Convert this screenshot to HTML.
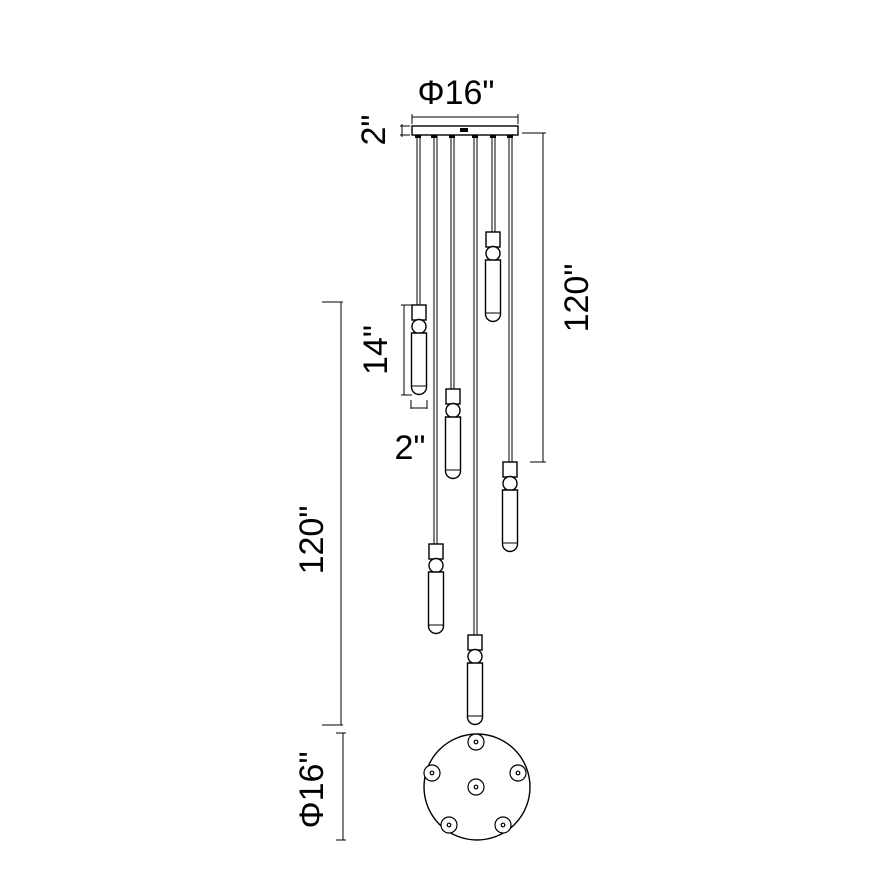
<!DOCTYPE html>
<html><head><style>body{margin:0;background:#fff}svg{display:block}</style></head><body>
<svg width="886" height="886" viewBox="0 0 886 886" xmlns="http://www.w3.org/2000/svg" font-family="Liberation Sans, Arial, sans-serif">
<defs>
<g id="p" fill="#fff" stroke="#000" stroke-width="1.4">
<rect x="-7" y="0" width="14" height="15"/>
<circle cx="0" cy="21.5" r="7"/>
<path d="M-7.5 28 H7.5 V82 A7.5 7.5 0 0 1 -7.5 82 Z"/>
<path d="M-7.5 81 H7.5" stroke-width="1"/>
</g>
</defs>
<g stroke="#000" fill="none">
<!-- wires -->
<g stroke-width="1" >
<path d="M417 136V305M420 136V305"/>
<path d="M434 136V544M437 136V544"/>
<path d="M451 136V389M454 136V389"/>
<path d="M474 136V635M477 136V635"/>
<path d="M492 136V232M495 136V232"/>
<path d="M509 136V462M512 136V462"/>
</g>
<!-- canopy -->
<rect x="412" y="126" width="106" height="9" fill="#fff" stroke-width="1.4"/>
<g fill="#000" stroke="none">
<rect x="415" y="135" width="6" height="3"/><rect x="431" y="135" width="6" height="3"/><rect x="449" y="135" width="6" height="3"/><rect x="472" y="135" width="6" height="3"/><rect x="490" y="135" width="6" height="3"/><rect x="507" y="135" width="6" height="3"/>
<rect x="460" y="128" width="8" height="4"/>
</g>
<path d="M412 117H518M412 114V124M518 114V124" stroke-width="1"/>
<path d="M400 126H410M400 135H410M402 124V137" stroke-width="1"/>
<!-- right dim -->
<path d="M522 133H546M543 133V462M530 462H546" stroke-width="1"/>
<!-- left dim -->
<path d="M322 302H343M341 302V725M322 725H343" stroke-width="1"/>
<!-- 14 dim -->
<path d="M401 305H412M404 305V395M401 395H412" stroke-width="1"/>
<path d="M411 400V409M427 400V409M411 408H427" stroke-width="1"/>
<!-- bottom dim -->
<path d="M336 733H346M343 733V840M336 840H346" stroke-width="1"/>
</g>
<use href="#p" x="419" y="305"/>
<use href="#p" x="453" y="389"/>
<use href="#p" x="493" y="232"/>
<use href="#p" x="510" y="462"/>
<use href="#p" x="436" y="544"/>
<use href="#p" x="475" y="635"/>
<!-- base -->
<g stroke="#000" fill="#fff" stroke-width="1.4">
<circle cx="477" cy="787" r="53"/>
<g stroke-width="1.2">
<circle cx="476" cy="742" r="8"/><circle cx="432" cy="773" r="8"/><circle cx="518" cy="773" r="8"/>
<circle cx="476" cy="787" r="8"/><circle cx="449" cy="825" r="8"/><circle cx="503" cy="825" r="8"/>
<circle cx="476" cy="742" r="1.8"/><circle cx="432" cy="773" r="1.8"/><circle cx="518" cy="773" r="1.8"/>
<circle cx="476" cy="787" r="1.8"/><circle cx="449" cy="825" r="1.8"/><circle cx="503" cy="825" r="1.8"/>
</g>
</g>
<g font-size="34" fill="#000">
<text x="456" y="104" text-anchor="middle">Φ16"</text>
<text x="410" y="459" text-anchor="middle">2"</text>
<text transform="translate(385,130) rotate(-90)" text-anchor="middle">2"</text>
<text transform="translate(387,350) rotate(-90)" text-anchor="middle">14"</text>
<text transform="translate(588,298) rotate(-90)" text-anchor="middle">120"</text>
<text transform="translate(323,540) rotate(-90)" text-anchor="middle">120"</text>
<text transform="translate(323,790) rotate(-90)" text-anchor="middle">Φ16"</text>
</g>
</svg>
</body></html>
